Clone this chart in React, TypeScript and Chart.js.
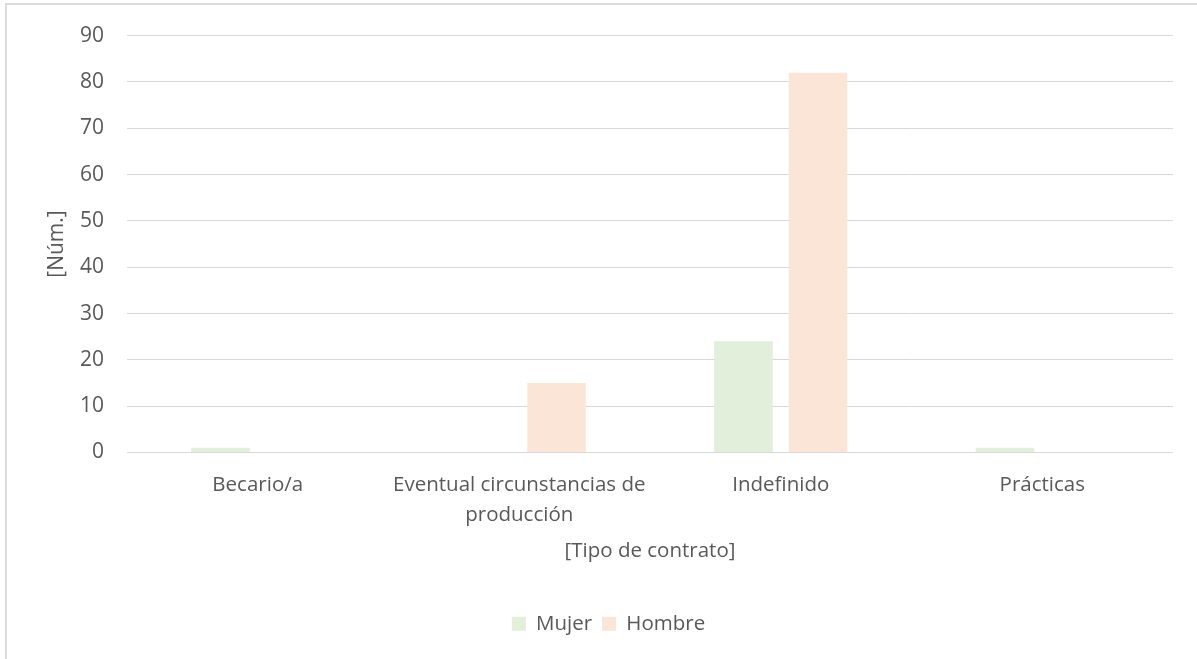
import React, { useEffect, useRef } from "react";
import { Chart, registerables } from "chart.js";

Chart.register(...registerables);

// Contract types on the category axis (the long one wraps onto two lines)
const categories: (string | string[])[] = [
  "Becario/a",
  ["Eventual circunstancias de", "producción"],
  "Indefinido",
  "Prácticas",
];

// Headcount per contract type
const mujer = [1, 0, 24, 1];
const hombre = [0, 15, 82, 0];

const seriesNames = ["Mujer", "Hombre"];
const yTitle = "[Núm.]";
const xTitle = "[Tipo de contrato]";

const TEXT = "#595959";
const GRID = "#d9d9d9";
const FONT = "'Open Sans', sans-serif";

export default function App() {
  const canvasRef = useRef<HTMLCanvasElement | null>(null);

  useEffect(() => {
    if (!canvasRef.current) return;
    const chart = new Chart(canvasRef.current, {
      type: "bar",
      data: {
        labels: categories,
        datasets: [
          {
            label: seriesNames[0],
            data: mujer,
            backgroundColor: "#E2EFDA",
            borderWidth: 0,
          },
          {
            label: seriesNames[1],
            data: hombre,
            backgroundColor: "#FBE5D6",
            borderWidth: 0,
          },
        ],
      },
      options: {
        responsive: false,
        animation: false,
        layout: { padding: { left: 44, right: 24, top: 33, bottom: 15 } },
        datasets: {
          bar: { categoryPercentage: 0.57, barPercentage: 0.785 },
        },
        plugins: {
          legend: {
            position: "bottom",
            labels: {
              color: TEXT,
              font: { family: FONT, size: 20.5 },
              boxWidth: 14,
              boxHeight: 14,
              padding: 10,
            },
          },
          tooltip: { enabled: false },
        },
        scales: {
          x: {
            grid: { display: false, drawTicks: false },
            border: { display: false },
            ticks: {
              color: TEXT,
              font: { family: FONT, size: 20.5, lineHeight: 1.45 },
              padding: 18,
              maxRotation: 0,
              autoSkip: false,
            },
            title: {
              display: true,
              text: xTitle,
              color: TEXT,
              font: { family: FONT, size: 20.5 },
              padding: { top: 0, bottom: 40 },
            },
            afterFit: (scale: any) => {
              scale.height = 151;
            },
          },
          y: {
            min: 0,
            max: 90,
            grid: { color: GRID, lineWidth: 1, drawTicks: false },
            border: { display: false },
            ticks: {
              stepSize: 10,
              color: TEXT,
              font: { family: FONT, size: 21 },
              padding: 23,
            },
            title: {
              display: true,
              text: yTitle,
              color: TEXT,
              font: { family: FONT, size: 21 },
              padding: { top: 0, bottom: 0 },
            },
            afterFit: (scale: any) => {
              scale.width = 83;
            },
          },
        },
      },
    });
    return () => chart.destroy();
  }, []);

  return (
    <div
      style={{
        position: "absolute",
        left: 0,
        top: 0,
        width: 1197,
        height: 659,
        overflow: "hidden",
        background: "#ffffff",
      }}
    >
      <div
        style={{
          position: "absolute",
          left: 5,
          top: 3,
          width: 1200,
          height: 670,
          border: "2px solid #dcdcdc",
          boxSizing: "border-box",
        }}
      />
      <canvas
        ref={canvasRef}
        width={1197}
        height={659}
        style={{ position: "absolute", left: 0, top: 0, width: 1197, height: 659 }}
      />
    </div>
  );
}
